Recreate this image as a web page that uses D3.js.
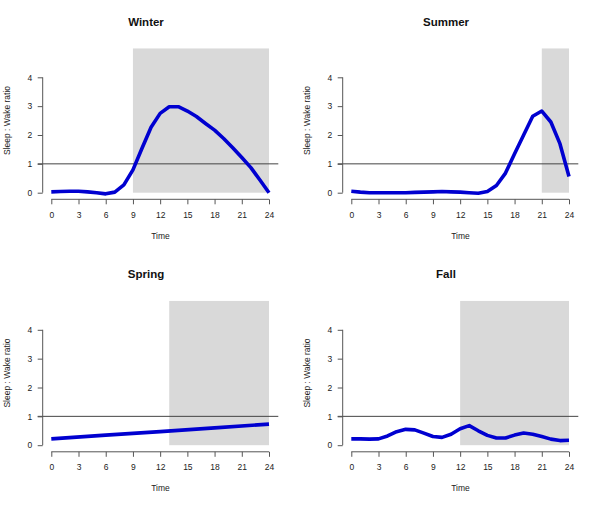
<!DOCTYPE html>
<html>
<head>
<meta charset="utf-8">
<script src="https://cdn.jsdelivr.net/npm/d3@7"></script>
<style>
  body { margin: 0; background: #fff; }
  svg { display: block; font-family: "Liberation Sans", Arial, sans-serif; }
  .axis path, .axis line { stroke: #555; stroke-width: 1; }
  .axis text { fill: #222; font-size: 8.5px; font-family: "Liberation Sans", Arial, sans-serif; }
</style>
</head>
<body>
<div id="chart"></div>
<script>
// hours 0..24
const hours = d3.range(0, 25);
const timeTicks = [0, 3, 6, 9, 12, 15, 18, 21, 24];
const ratioTicks = [0, 1, 2, 3, 4];

const winter = [0.03, 0.04, 0.05, 0.05, 0.03, 0.0, -0.04, 0.02, 0.27, 0.79, 1.54, 2.27, 2.75, 2.98, 2.98,
                2.83, 2.64, 2.40, 2.17, 1.88, 1.56, 1.22, 0.87, 0.44, 0.0];
const summer = [0.05, 0.02, 0.0, 0.0, 0.0, 0.0, 0.0, 0.01, 0.02, 0.03, 0.04, 0.03, 0.02, 0.0, -0.02,
                0.04, 0.25, 0.68, 1.35, 2.0, 2.65, 2.83, 2.45, 1.7, 0.56];
const springHours = [0, 6, 12, 18, 24];
const spring = [0.22, 0.35, 0.47, 0.60, 0.73];
const fall = [0.22, 0.22, 0.21, 0.22, 0.32, 0.47, 0.55, 0.53, 0.42, 0.30, 0.27, 0.38, 0.57, 0.68,
              0.50, 0.34, 0.25, 0.25, 0.35, 0.42, 0.38, 0.30, 0.21, 0.16, 0.17];

// shaded (dark) period: start hour, end hour
const panels = [
  { title: 'Winter', hrs: hours, vals: winter, shade: [9, 24], col: 0, row: 0 },
  { title: 'Summer', hrs: hours, vals: summer, shade: [21, 24], col: 1, row: 0 },
  { title: 'Spring', hrs: springHours, vals: spring, shade: [13, 24], col: 0, row: 1 },
  { title: 'Fall', hrs: hours, vals: fall, shade: [12, 24], col: 1, row: 1 }
];
const shadeTop = 5;
const refLine = 1;

const width = 600, height = 505;
const svg = d3.select('#chart').append('svg')
  .attr('width', width)
  .attr('height', height);

panels.forEach(p => {
  const ox = p.col * 300;
  const oy = p.row * 252.5;
  const g = svg.append('g').attr('transform', `translate(${ox},${oy})`);

  const x = d3.scaleLinear().domain([0, 24]).range([51.3, 269]);
  const y = d3.scaleLinear().domain([0, 4]).range([192.7, 77.3]);

  // shaded night period
  g.append('rect')
    .attr('x', x(p.shade[0]))
    .attr('y', y(shadeTop))
    .attr('width', x(p.shade[1]) - x(p.shade[0]))
    .attr('height', y(0) - y(shadeTop))
    .attr('fill', '#d9d9d9');

  // reference line at ratio 1
  g.append('line')
    .attr('x1', 37.7).attr('x2', 278.3)
    .attr('y1', y(refLine)).attr('y2', y(refLine))
    .attr('stroke', '#444')
    .attr('stroke-width', 1);

  const line = d3.line()
    .x((d, i) => x(p.hrs[i]))
    .y(d => y(d));

  g.append('path')
    .datum(p.vals)
    .attr('d', line)
    .attr('fill', 'none')
    .attr('stroke', '#0000d0')
    .attr('stroke-width', 3.6)
    .attr('stroke-linejoin', 'round');

  g.append('g')
    .attr('class', 'axis')
    .attr('transform', 'translate(0,199.3)')
    .call(d3.axisBottom(x).tickValues(timeTicks).tickFormat(d3.format('d'))
      .tickSize(5).tickSizeOuter(0).tickPadding(7.5))
    .call(a => a.select('.domain').attr('d', `M${x(0)},0H${x(24)}`));

  g.append('g')
    .attr('class', 'axis')
    .attr('transform', 'translate(42.7,0)')
    .call(d3.axisLeft(y).tickValues(ratioTicks).tickFormat(d3.format('d'))
      .tickSize(5).tickSizeOuter(0).tickPadding(5.5))
    .call(a => a.select('.domain').attr('d', `M0,${y(0)}V${y(4)}`));

  g.append('text')
    .attr('x', 146).attr('y', 25.8)
    .attr('text-anchor', 'middle')
    .attr('font-size', '11.5px')
    .attr('font-weight', 'bold')
    .attr('fill', '#111')
    .text(p.title);

  g.append('text')
    .attr('x', 160.5).attr('y', 238.8)
    .attr('text-anchor', 'middle')
    .attr('font-size', '8.5px')
    .attr('fill', '#222')
    .text('Time');

  g.append('text')
    .attr('transform', 'translate(9.5,120.5) rotate(-90)')
    .attr('text-anchor', 'middle')
    .attr('font-size', '8.5px')
    .attr('fill', '#222')
    .text('Sleep : Wake ratio');
});
</script>
</body>
</html>
